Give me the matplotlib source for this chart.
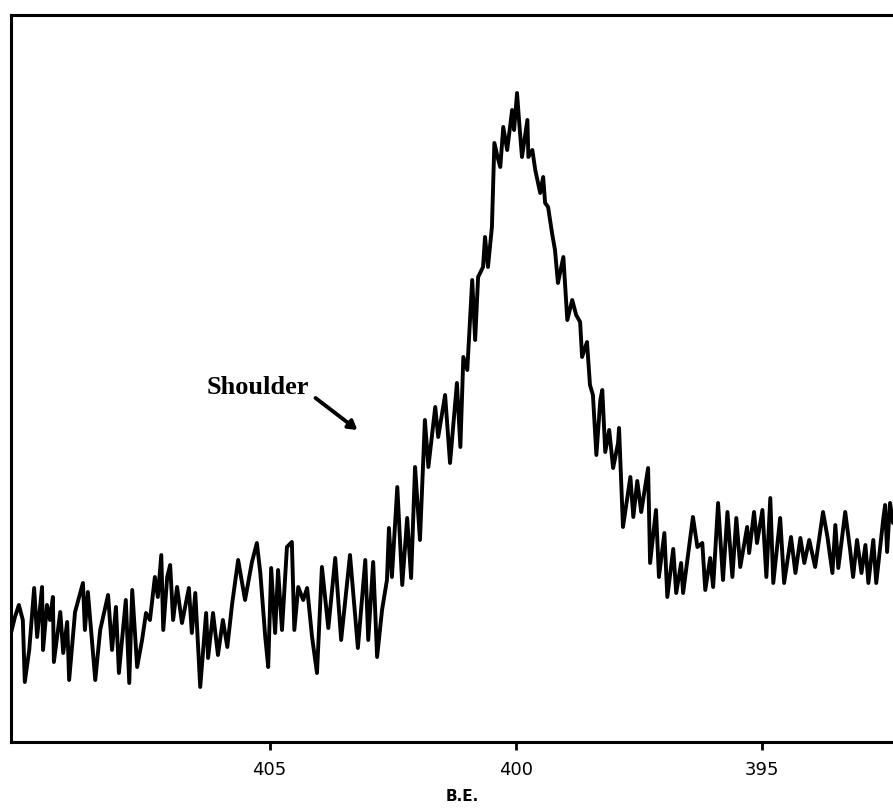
import numpy as np
from matplotlib import pyplot as plt

# binding energy (eV) and intensity (arb. units)
be = [410.27, 410.17, 410.09, 410.01, 409.97, 409.88, 409.78, 409.72, 409.62, 409.60,
      409.52, 409.46, 409.40, 409.38, 409.25, 409.19, 409.11, 409.07, 408.95, 408.79,
      408.75, 408.69, 408.54, 408.44, 408.28, 408.20, 408.12, 408.06, 407.92, 407.85,
      407.79, 407.69, 407.59, 407.51, 407.43, 407.33, 407.27, 407.20, 407.16, 407.08,
      407.02, 406.96, 406.88, 406.78, 406.64, 406.58, 406.51, 406.41, 406.29, 406.25,
      406.15, 406.05, 405.95, 405.86, 405.76, 405.64, 405.56, 405.50, 405.36, 405.26,
      405.19, 405.09, 405.03, 404.97, 404.89, 404.83, 404.75, 404.65, 404.55, 404.50,
      404.42, 404.32, 404.24, 404.14, 404.04, 403.94, 403.81, 403.67, 403.55, 403.37,
      403.21, 403.06, 403.00, 402.90, 402.82, 402.72, 402.62, 402.58, 402.52, 402.41,
      402.31, 402.21, 402.13, 402.05, 401.95, 401.85, 401.78, 401.64, 401.58, 401.44,
      401.34, 401.20, 401.13, 401.07, 400.99, 400.89, 400.83, 400.77, 400.67, 400.63,
      400.57, 400.49, 400.44, 400.36, 400.32, 400.26, 400.18, 400.08, 400.04, 399.98,
      399.94, 399.88, 399.77, 399.75, 399.67, 399.61, 399.51, 399.45, 399.41, 399.35,
      399.27, 399.21, 399.15, 399.04, 398.96, 398.86, 398.78, 398.70, 398.66, 398.56,
      398.50, 398.44, 398.37, 398.29, 398.25, 398.19, 398.11, 398.03, 397.93, 397.91,
      397.83, 397.68, 397.62, 397.54, 397.46, 397.32, 397.28, 397.16, 397.10, 396.99,
      396.93, 396.81, 396.75, 396.65, 396.61, 396.41, 396.32, 396.22, 396.16, 396.06,
      396.00, 395.90, 395.80, 395.71, 395.61, 395.53, 395.45, 395.31, 395.27, 395.17,
      395.11, 395.00, 394.92, 394.84, 394.78, 394.64, 394.56, 394.42, 394.33, 394.23,
      394.15, 394.05, 393.93, 393.77, 393.68, 393.58, 393.52, 393.46, 393.32, 393.22,
      393.16, 393.08, 392.99, 392.91, 392.85, 392.75, 392.69, 392.55, 392.51, 392.47,
      392.41, 392.35]

counts = [105, 125, 137, 122, 60, 92, 154, 105, 155, 92,
          137, 122, 145, 80, 130, 89, 120, 62, 130, 159,
          112, 150, 62, 112, 147, 92, 135, 69, 142, 59,
          152, 75, 102, 129, 122, 165, 145, 187, 112, 165,
          177, 122, 155, 119, 154, 109, 149, 55, 129, 84,
          129, 87, 122, 95, 139, 182, 159, 142, 180, 199,
          169, 105, 75, 174, 109, 172, 112, 195, 200, 112,
          155, 142, 154, 105, 69, 175, 114, 184, 102, 187,
          94, 182, 102, 180, 85, 132, 162, 214, 165, 255,
          157, 224, 164, 275, 202, 322, 275, 335, 305, 347,
          279, 359, 295, 385, 372, 462, 402, 465, 475, 505,
          475, 515, 599, 582, 575, 615, 592, 632, 612, 649,
          622, 585, 622, 585, 592, 572, 549, 565, 539, 535,
          509, 492, 459, 485, 422, 442, 427, 420, 385, 400,
          357, 347, 287, 342, 352, 290, 312, 274, 299, 314,
          215, 265, 225, 261, 230, 274, 179, 232, 165, 209,
          145, 193, 149, 179, 149, 225, 195, 199, 152, 184,
          155, 239, 162, 230, 165, 224, 175, 215, 189, 230,
          199, 232, 165, 244, 159, 224, 159, 205, 169, 204,
          179, 202, 175, 230, 205, 169, 217, 174, 230, 192,
          165, 202, 169, 197, 159, 202, 159, 222, 237, 190,
          239, 219]

ticks = [405, 400, 395]
tick_labels = ["405", "400", "395"]

fig = plt.figure(figsize=(8.93, 8.11), dpi=100)
ax = fig.add_axes([11 / 893, 69 / 811, 882 / 893, 727 / 811])

ax.plot(be, counts, color="black", lw=2.8, solid_joinstyle="round", solid_capstyle="round")

ax.set_xlim(410.25, 392.35)
ax.set_ylim(0, 727)
ax.set_yticks([])
ax.set_xticks(ticks)
ax.set_xticklabels(tick_labels, fontsize=13)
ax.tick_params(axis="x", direction="out", length=6, width=2, pad=8)

for side in ["left", "top", "bottom"]:
    ax.spines[side].set_linewidth(2.2)
ax.spines["right"].set_visible(False)

ax.set_xlabel("B.E.", fontsize=11, fontweight="bold")
ax.xaxis.set_label_coords(0.512, -0.065)

ax.text(406.27, 355, "Shoulder", fontsize=19, fontweight="bold",
        family="Liberation Serif", ha="left", va="center")
ax.annotate("", xy=(403.22, 312), xytext=(404.07, 344),
            arrowprops=dict(arrowstyle="-|>,head_length=0.5,head_width=0.3",
                            lw=2.8, color="black", shrinkA=0, shrinkB=0))

fig.savefig("out.png", dpi=100)
